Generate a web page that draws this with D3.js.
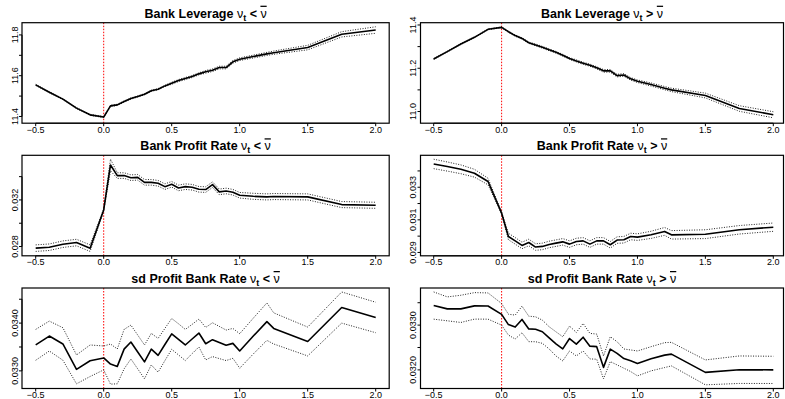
<!DOCTYPE html>
<html lang="en">
<head>
<meta charset="UTF-8">
<title>Bank Leverage and Profit Rate</title>
<script src="https://d3js.org/d3.v7.min.js"></script>
<style>
  body { margin: 0; background: #fff; }
  text { font-family: "Liberation Sans", Arial, Helvetica, sans-serif; }
</style>
</head>
<body>
<svg id="chart" width="785" height="399"></svg>
<script>
// horizon (x values shared by every panel)
const xSteps = [-0.5, -0.4, -0.3, -0.2, -0.1, 0, 0.05, 0.1, 0.15, 0.2, 0.25, 0.3, 0.35, 0.4, 0.45,
  0.5, 0.55, 0.6, 0.65, 0.7, 0.75, 0.8, 0.85, 0.9, 0.95, 1.0, 1.1, 1.2, 1.25, 1.5, 1.75, 2.0];
const xTicks = [-0.5, 0, 0.5, 1, 1.5, 2];

// Bank leverage, nu_t below / above nu-bar
const levBelowMean = [11.555, 11.519, 11.485, 11.441, 11.408, 11.397, 11.452, 11.457, 11.473, 11.488, 11.498,
  11.509, 11.526, 11.534, 11.550, 11.563, 11.576, 11.586, 11.596, 11.609, 11.619, 11.627, 11.640, 11.640,
  11.668, 11.681, 11.694, 11.707, 11.713, 11.738, 11.803, 11.824];
const levBelowErr = [0.0025, 0.0025, 0.0025, 0.0025, 0.0025, 0.0025, 0.003, 0.003, 0.003, 0.003, 0.003,
  0.003, 0.003, 0.003, 0.003, 0.005, 0.005, 0.005, 0.005, 0.005, 0.0065, 0.0065, 0.0065, 0.0065, 0.0065,
  0.0065, 0.007, 0.0075, 0.008, 0.011, 0.013, 0.016];
const levAboveMean = [11.243, 11.277, 11.312, 11.343, 11.380, 11.389, 11.369, 11.351, 11.338, 11.318, 11.308,
  11.297, 11.285, 11.274, 11.260, 11.245, 11.234, 11.223, 11.214, 11.202, 11.188, 11.188, 11.166, 11.169,
  11.151, 11.140, 11.125, 11.108, 11.100, 11.074, 11.014, 10.985];
const levAboveErr = [0.002, 0.002, 0.002, 0.002, 0.002, 0.002, 0.003, 0.003, 0.003, 0.003, 0.004, 0.004,
  0.004, 0.004, 0.004, 0.004, 0.005, 0.005, 0.005, 0.005, 0.006, 0.006, 0.006, 0.006, 0.006, 0.006,
  0.007, 0.0075, 0.008, 0.011, 0.013, 0.014];

// Bank profit rate
const profBelowMean = [0.02786, 0.02794, 0.0282, 0.02834, 0.02786, 0.03114, 0.0350, 0.03409, 0.03409, 0.03391,
  0.03394, 0.03351, 0.03351, 0.03343, 0.03314, 0.03334, 0.03303, 0.03314, 0.03309, 0.03291, 0.03289, 0.03331,
  0.03269, 0.03277, 0.03266, 0.0324, 0.03231, 0.03226, 0.03229, 0.03226, 0.0316, 0.03154];
const profBelowErr = [0.00028, 0.00028, 0.00028, 0.00028, 0.00028, 0.0001, 0.0005, 0.00024, 0.00024, 0.00024,
  0.00024, 0.00024, 0.00024, 0.00024, 0.00024, 0.00024, 0.00024, 0.00024, 0.00024, 0.00024, 0.00024, 0.00024,
  0.00024, 0.00024, 0.00024, 0.00024, 0.00026, 0.00026, 0.00026, 0.00026, 0.00026, 0.00026];
const profAboveMean = [0.03443, 0.03427, 0.03410, 0.03386, 0.03335, 0.03141, 0.02998, 0.02971, 0.02943, 0.02961,
  0.02933, 0.02937, 0.02949, 0.02957, 0.02965, 0.02951, 0.02967, 0.02971, 0.02951, 0.02971, 0.02971, 0.02947,
  0.02976, 0.02978, 0.02998, 0.02994, 0.03008, 0.03029, 0.03008, 0.03012, 0.03039, 0.03055];
const profAboveErr = [0.00029, 0.00028, 0.00027, 0.00024, 0.0002, 0.00006, 0.0002, 0.0002, 0.0002, 0.0002,
  0.0002, 0.0002, 0.0002, 0.0002, 0.0002, 0.0002, 0.0002, 0.0002, 0.0002, 0.0002, 0.0002, 0.0002, 0.0002,
  0.0002, 0.0002, 0.0002, 0.00022, 0.00024, 0.00026, 0.00027, 0.00026, 0.000255];

// sd of bank profit rate
const sdBelowMean = [0.033545, 0.033729, 0.033563, 0.033031, 0.033212, 0.033271, 0.033142, 0.033094, 0.033455,
  0.033604, 0.033396, 0.033188, 0.033455, 0.033326, 0.033552, 0.033774, 0.03366, 0.033542, 0.033667, 0.033792,
  0.033569, 0.033653, 0.033594, 0.033535, 0.033576, 0.033417, 0.033729, 0.034031, 0.033889, 0.033615,
  0.034326, 0.034118];
const sdBelowErr = [0.000323, 0.000313, 0.00034, 0.000302, 0.00033, 0.00025, 0.00042, 0.000365, 0.000413,
  0.000354, 0.000354, 0.000354, 0.00033, 0.000354, 0.000337, 0.000323, 0.000326, 0.000326, 0.000306, 0.000292,
  0.00034, 0.000354, 0.000337, 0.000319, 0.000313, 0.000361, 0.000375, 0.000392, 0.000326, 0.000302,
  0.000326, 0.000319];
const sdAboveMean = [0.033437, 0.033363, 0.033363, 0.03343, 0.033426, 0.033241, 0.033011, 0.032956, 0.033126,
  0.032915, 0.032907, 0.032852, 0.032715, 0.032581, 0.03247, 0.0327, 0.032574, 0.03273, 0.03253, 0.032519,
  0.032056, 0.032463, 0.03237, 0.032252, 0.032204, 0.032144, 0.032248, 0.03233, 0.032352, 0.031944,
  0.032004, 0.032];
const sdAboveErr = [0.000304, 0.000267, 0.000304, 0.000296, 0.000293, 0.000241, 0.000233, 0.000267, 0.000296,
  0.000285, 0.000278, 0.000259, 0.000248, 0.00027, 0.00027, 0.000278, 0.000263, 0.000307, 0.000285, 0.000281,
  0.000256, 0.000278, 0.000259, 0.000215, 0.000241, 0.000278, 0.00027, 0.000278, 0.000263, 0.000278,
  0.000307, 0.000304];

const panels = [
  { title: "Bank Leverage", rel: "<", mean: levBelowMean, err: levBelowErr, col: 0, row: 0,
    yDomain: [11.367, 11.860], yTicks: [11.4, 11.5, 11.6, 11.7, 11.8], yLabels: [11.4, 11.6, 11.8], fmt: ".1f" },
  { title: "Bank Leverage", rel: ">", mean: levAboveMean, err: levAboveErr, col: 1, row: 0,
    yDomain: [10.946, 11.4106], yTicks: [11.0, 11.1, 11.2, 11.3, 11.4], yLabels: [11.0, 11.2, 11.4], fmt: ".1f" },
  { title: "Bank Profit Rate", rel: "<", mean: profBelowMean, err: profBelowErr, col: 0, row: 1,
    yDomain: [0.027203, 0.035831], yTicks: [0.028, 0.030, 0.032, 0.034], yLabels: [0.028, 0.032], fmt: ".3f" },
  { title: "Bank Profit Rate", rel: ">", mean: profAboveMean, err: profAboveErr, col: 1, row: 1,
    yDomain: [0.028794, 0.034959], yTicks: [0.029, 0.030, 0.031, 0.032, 0.033, 0.034],
    yLabels: [0.029, 0.031, 0.033], fmt: ".3f" },
  { title: "sd Profit Bank Rate", rel: "<", mean: sdBelowMean, err: sdBelowErr, col: 0, row: 2,
    yDomain: [0.032631, 0.034735], yTicks: [0.0330, 0.0335, 0.0340, 0.0345], yLabels: [0.0330, 0.0340], fmt: ".4f" },
  { title: "sd Profit Bank Rate", rel: ">", mean: sdAboveMean, err: sdAboveErr, col: 1, row: 2,
    yDomain: [0.031584, 0.033829], yTicks: [0.0320, 0.0325, 0.0330, 0.0335], yLabels: [0.0320, 0.0330], fmt: ".4f" }
];

// layout of the plot boxes
const colLeft = [22, 420.5];
const colRight = [389.2, 783.5];
const tickRange = [[35.7, 375.7], [433.7, 773.3]];   // pixel span of -0.5 .. 2.0
const rowTop = [22.7, 155.3, 288];
const boxH = 100.5;

const svg = d3.select("#chart");
svg.append("rect").attr("width", 785).attr("height", 399).attr("fill", "#fff");

panels.forEach(p => {
  const left = colLeft[p.col], right = colRight[p.col], top = rowTop[p.row];
  const bottom = top + boxH;
  const x = d3.scaleLinear().domain([-0.5, 2.0]).range(tickRange[p.col]);
  const y = d3.scaleLinear().domain(p.yDomain).range([top + boxH, top]);
  const g = svg.append("g");

  // vertical marker at the shock
  g.append("line")
    .attr("x1", x(0)).attr("x2", x(0))
    .attr("y1", top).attr("y2", bottom)
    .attr("stroke", "#ff0000").attr("stroke-width", 1)
    .attr("stroke-dasharray", "1.5,1.5");

  const idx = d3.range(xSteps.length);
  const lineOf = f => d3.line().x(i => x(xSteps[i])).y(i => y(f(i)));

  // confidence bands
  [i => p.mean[i] + p.err[i], i => p.mean[i] - p.err[i]].forEach(f => {
    g.append("path")
      .datum(idx)
      .attr("fill", "none")
      .attr("stroke", "#222")
      .attr("stroke-width", 1)
      .attr("stroke-dasharray", "1,1.5")
      .attr("d", lineOf(f));
  });

  // mean response
  g.append("path")
    .datum(idx)
    .attr("fill", "none")
    .attr("stroke", "#000")
    .attr("stroke-width", 1.6)
    .attr("stroke-linejoin", "round")
    .attr("d", lineOf(i => p.mean[i]));

  // box
  g.append("rect")
    .attr("x", left).attr("y", top)
    .attr("width", right - left).attr("height", boxH)
    .attr("fill", "none").attr("stroke", "#000").attr("stroke-width", 1.2);

  // x axis
  g.append("line")
    .attr("x1", x(xTicks[0])).attr("x2", x(xTicks[xTicks.length - 1]))
    .attr("y1", bottom).attr("y2", bottom)
    .attr("stroke", "#000");
  xTicks.forEach(t => {
    g.append("line")
      .attr("x1", x(t)).attr("x2", x(t))
      .attr("y1", bottom).attr("y2", bottom + 3)
      .attr("stroke", "#000");
    g.append("text")
      .attr("x", x(t)).attr("y", bottom + 9.6)
      .attr("text-anchor", "middle")
      .style("font-size", "9px")
      .text(d3.format(".1f")(t).replace("-", "\u2212"));
  });

  // y axis
  g.append("line")
    .attr("x1", left).attr("x2", left)
    .attr("y1", y(p.yTicks[0])).attr("y2", y(p.yTicks[p.yTicks.length - 1]))
    .attr("stroke", "#000");
  p.yTicks.forEach(t => {
    g.append("line")
      .attr("x1", left - 3).attr("x2", left)
      .attr("y1", y(t)).attr("y2", y(t))
      .attr("stroke", "#000");
  });
  p.yLabels.forEach(t => {
    g.append("text")
      .attr("transform", `translate(${left - 4.5},${y(t)}) rotate(-90)`)
      .attr("text-anchor", "middle")
      .style("font-size", "9px")
      .text(d3.format(p.fmt)(t));
  });

  // title: "<name> nu_t < nu-bar"
  const title = g.append("text")
    .attr("x", (left + right) / 2).attr("y", top - 5)
    .attr("text-anchor", "middle")
    .style("font-size", "12.5px")
    .style("font-weight", "bold");
  title.append("tspan").text(p.title + " ");
  title.append("tspan").style("font-weight", "normal").text("\u03bd");
  title.append("tspan").attr("dy", 3).style("font-size", "9px").text("t");
  title.append("tspan").attr("dy", -3).text(" " + p.rel + " ");
  title.append("tspan").style("font-weight", "normal")
    .style("text-decoration", "overline").text("\u03bd");
});
</script>
</body>
</html>
